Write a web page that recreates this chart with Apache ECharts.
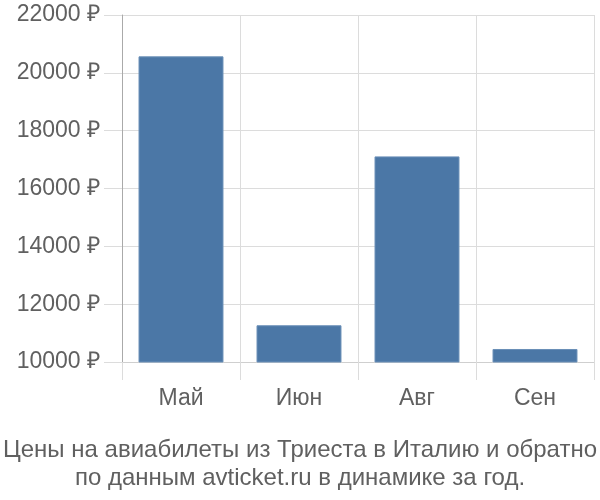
<!DOCTYPE html>
<html><head><meta charset="utf-8">
<script src="https://cdn.jsdelivr.net/npm/echarts@6/dist/echarts.min.js"></script>
<style>html,body{margin:0;padding:0;background:#fff}#c{width:600px;height:500px}</style>
</head><body><div id="c"></div>
<script>
const categories = ['Май', 'Июн', 'Авг', 'Сен'];
const prices = [20570, 11270, 17110, 10450];
const yTicks = { min: 10000, max: 22000, step: 2000 };
const titleLines = ['Цены на авиабилеты из Триеста в Италию и обратно', 'по данным avticket.ru в динамике за год.'];

const chart = echarts.init(document.getElementById('c'), null, { renderer: 'canvas' });
const font = 'Liberation Sans, Arial, sans-serif';
chart.setOption({
  animation: false,
  title: {
    text: titleLines.join('\n'),
    left: 'center', top: 431,
    textStyle: { color: '#606060', fontSize: 24, fontWeight: 'normal', fontFamily: font, lineHeight: 28 }
  },
  grid: { left: 122, right: 6, top: 15, bottom: 138 },
  xAxis: {
    type: 'category', data: categories, boundaryGap: true,
    axisLine: { show: true, lineStyle: { color: '#cfcfcf', width: 1 } },
    axisTick: { show: true, interval: 0, length: 18, lineStyle: { color: '#dcdcdc' } },
    splitLine: { show: true, interval: 0, lineStyle: { color: '#dcdcdc' } },
    axisLabel: { color: '#606060', fontSize: 23, fontFamily: font, margin: 25 }
  },
  yAxis: {
    type: 'value', min: yTicks.min, max: yTicks.max, interval: yTicks.step,
    axisLine: { show: true, lineStyle: { color: '#aaaaaa' } },
    axisTick: { show: true, length: 18, lineStyle: { color: '#dcdcdc' } },
    splitLine: { show: true, lineStyle: { color: '#dcdcdc' } },
    axisLabel: { color: '#606060', fontSize: 23, fontFamily: font, margin: 22, formatter: v => v + ' ₽' }
  },
  series: [{
    type: 'bar', data: prices, barWidth: '72%',
    itemStyle: { color: '#4b77a6', borderColor: '#6b90b8', borderWidth: 1 }
  }]
});
</script></body></html>
